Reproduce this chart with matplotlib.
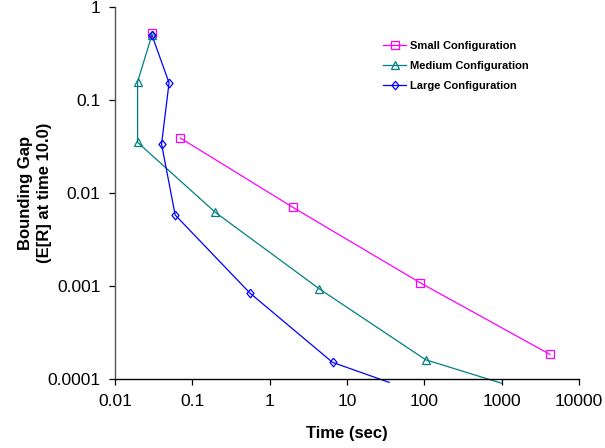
import matplotlib
matplotlib.use("Agg")
import numpy as np
import matplotlib.pyplot as plt
from matplotlib.ticker import FixedLocator, FuncFormatter, NullLocator

plt.rcParams['font.family'] = ['Liberation Sans', 'DejaVu Sans']

# Datos (tiempo en seg, gap); nan = hueco en la linea
small_time = [0.03, np.nan, 0.07, 2.0, 89, 4200]
small_gap = [0.52, np.nan, 0.039, 0.0070, 0.00108, 0.000184]

medium_time = [0.03, 0.0196, 0.0196, 0.198, 4.4, 104, 1000]
medium_gap = [0.50, 0.157, 0.0350, 0.0062, 0.00093, 0.000161, 0.000090]

large_time = [0.03, 0.05, 0.04, 0.06, 0.555, 6.5, 35]
large_gap = [0.50, 0.153, 0.0335, 0.0058, 0.00084, 0.000151, 0.000092]

labels = ["Small Configuration", "Medium Configuration", "Large Configuration"]
colors = ["#FF00FF", "#008080", "#0000FF"]

# rombo algo estrecho como el de Excel
diamond = [(0, 1), (0.82, 0), (0, -1), (-0.82, 0), (0, 1)]
markers = ["s", "^", diamond]
msizes = [5.8, 6.0, 6.2]

x_ticks = [0.01, 0.1, 1, 10, 100, 1000, 10000]
y_ticks = [0.0001, 0.001, 0.01, 0.1, 1]

fig = plt.figure(figsize=(6.05, 4.48), dpi=100)
ax = fig.add_axes([115 / 605, 1 - 379 / 448, 464 / 605, 372 / 448])

series = [(small_time, small_gap), (medium_time, medium_gap), (large_time, large_gap)]
for (t, g), lab, c, m, ms in zip(series, labels, colors, markers, msizes):
    # linea sin recorte (sobresale un poco del eje como en Excel)
    ax.plot(t, g, color=c, lw=0.9, clip_on=False, zorder=2)
    # marcadores solo dentro del area
    inside = [i for i, v in enumerate(g) if v >= 1e-4]
    ax.plot([t[i] for i in inside], [g[i] for i in inside], ls='none',
            marker=m, ms=ms, mfc='none', mec=c, mew=0.9, zorder=3)
    ax.plot([], [], color=c, lw=0.9, marker=m, ms=ms, mfc='none', mec=c,
            mew=0.9, label=lab)

ax.set_xscale('log')
ax.set_yscale('log')
ax.set_xlim(0.01, 10000)
ax.set_ylim(0.0001, 1)

fmt = FuncFormatter(lambda v, p: '%g' % v)
ax.xaxis.set_major_locator(FixedLocator(x_ticks))
ax.yaxis.set_major_locator(FixedLocator(y_ticks))
ax.xaxis.set_major_formatter(fmt)
ax.yaxis.set_major_formatter(fmt)
ax.xaxis.set_minor_locator(NullLocator())
ax.yaxis.set_minor_locator(NullLocator())

ax.tick_params(axis='both', direction='out', length=4.5, width=0.9,
               labelsize=12.5, pad=6)
for s in ['top', 'right']:
    ax.spines[s].set_visible(False)
ax.spines['left'].set_color('#555555')
ax.spines['left'].set_linewidth(1.0)
ax.spines['bottom'].set_linewidth(1.0)

ax.set_xlabel("Time (sec)", fontsize=12, fontweight='bold')
ax.xaxis.set_label_coords(0.5, -0.125)
ax.set_ylabel("Bounding Gap\n(E[R] at time 10.0)", fontsize=12,
              fontweight='bold', linespacing=1.35)
ax.yaxis.set_label_coords(-0.135, 0.5)

fig.legend(loc='upper left', bbox_to_anchor=(383 / 605, 1 - 41 / 448),
           frameon=False, prop={'weight': 'bold', 'size': 8},
           handlelength=2.1, handletextpad=0.3, labelspacing=0.9,
           borderpad=0, borderaxespad=0)

fig.savefig("out.png", dpi=100)
